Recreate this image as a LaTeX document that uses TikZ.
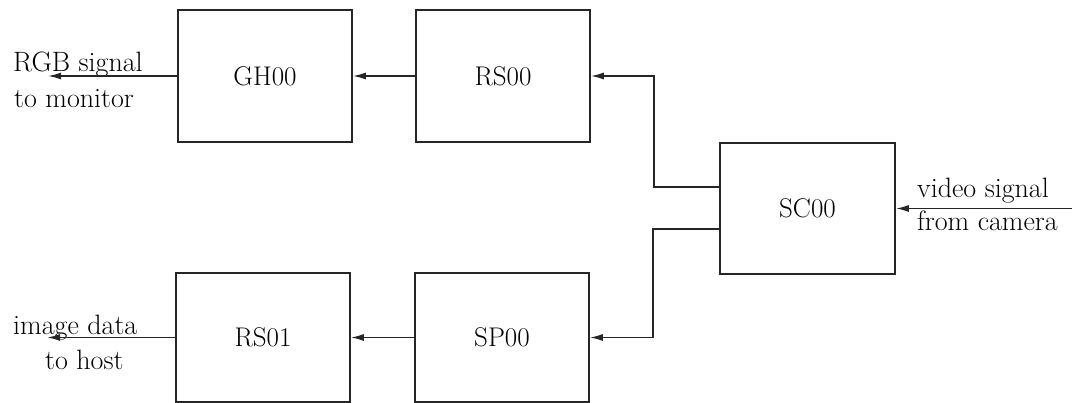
\documentclass[tikz,border=0pt]{standalone}
\usetikzlibrary{arrows.meta}
\begin{document}
\begin{tikzpicture}[x=1pt,y=-1pt,
  blk/.style={draw=black!85, line width=1.6pt, minimum width=174pt, minimum height=132pt, inner sep=0pt, font=\fontsize{27}{30}\selectfont},
  lbl/.style={anchor=base west, inner sep=0pt, font=\fontsize{28}{30}\selectfont},
  conn/.style={draw=black!85, line width=1.6pt, -{Latex[length=13pt,width=7pt]}}]
\useasboundingbox (0,0) rectangle (1072,403);
\node[blk] (GH00) at (265,76) {GH00};
\node[blk] (RS00) at (503,76) {RS00};
\node[blk, minimum width=175pt, minimum height=131pt] (SC00) at (807.5,208.5) {SC00};
\node[blk, minimum height=129pt] (RS01) at (263,337.5) {RS01};
\node[blk, minimum height=129pt] (SP00) at (502,337.5) {SP00};
\coordinate (outA) at (48,76);
\coordinate (outB) at (47,337.5);
\coordinate (inC) at (1072,208.5);
\node[lbl] (t1) at (13,72) {RGB signal};
\node[lbl] (t2) at (14,108) {to monitor};
\node[lbl] (t3) at (13,335) {image data};
\node[lbl] (t4) at (45,370) {to host};
\node[lbl] (t5) at (917,198) {video signal};
\node[lbl] (t6) at (917,231) {from camera};
\draw[conn] (RS00.west) -- (GH00.east);
\draw[conn] (GH00.west) -- (outA);
\draw[conn] (SP00.west) -- (RS01.east);
\draw[conn] (RS01.west) -- (outB);
\draw[conn] (inC) -- (SC00.east);
\draw[conn] ([yshift=21.5pt]SC00.west) -- ++(-65,0) |- (RS00.east);
\draw[conn] ([yshift=-20.5pt]SC00.west) -- ++(-66,0) |- (SP00.east);
\end{tikzpicture}
\end{document}
